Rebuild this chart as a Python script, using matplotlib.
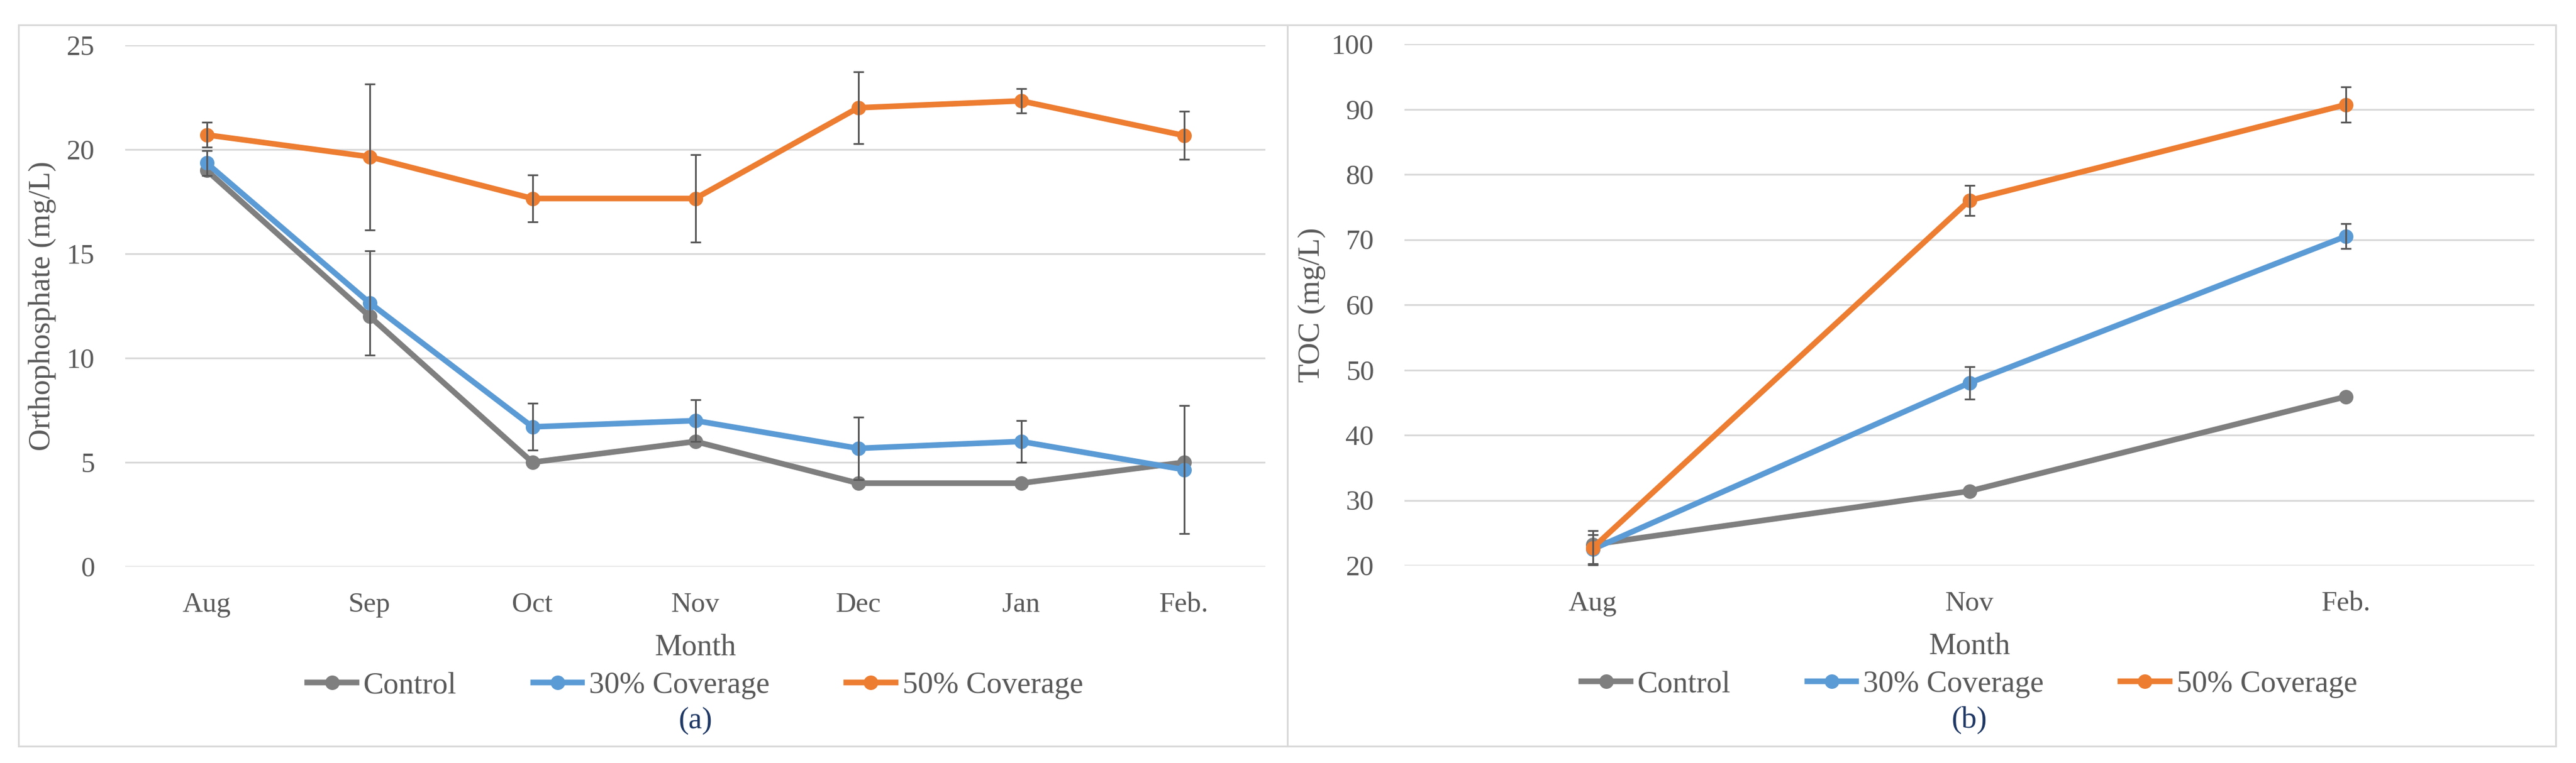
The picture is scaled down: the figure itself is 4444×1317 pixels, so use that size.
import matplotlib
matplotlib.use("Agg")
import matplotlib.pyplot as plt
from matplotlib.patches import Rectangle

plt.rcParams['font.family'] = ['Liberation Serif', 'DejaVu Serif']

# (a) orthophosphate, monthly
months_a = ['Aug', 'Sep', 'Oct', 'Nov', 'Dec', 'Jan', 'Feb.']
control_a = [19.0, 12.0, 5.0, 6.0, 4.0, 4.0, 5.0]
cov30_a = [19.35, 12.65, 6.7, 7.0, 5.67, 6.0, 4.65]
err30_a = [0.6, 2.5, 1.13, 1.0, 1.5, 1.0, 3.07]
cov50_a = [20.7, 19.65, 17.65, 17.65, 22.0, 22.33, 20.67]
err50_a = [0.6, 3.5, 1.13, 2.1, 1.72, 0.58, 1.15]

# (b) TOC, three samplings
months_b = ['Aug', 'Nov', 'Feb.']
control_b = [23.2, 31.4, 45.9]
cov30_b = [22.5, 48.0, 70.5]
err30_b = [2.2, 2.5, 1.9]
cov50_b = [22.7, 76.0, 90.7]
err50_b = [2.6, 2.3, 2.7]

labels = ['Control', '30% Coverage', '50% Coverage']
colors = ['#7f7f7f', '#5b9bd5', '#ed7d31']
txt = '#595959'
W, H = 4444, 1317

fig = plt.figure(figsize=(W / 100, H / 100), dpi=100)

# panel frames
for x0, x1 in [(32, 2221), (2221, 4409)]:
    fig.patches.append(Rectangle((x0 / W, 1 - 1288 / H), (x1 - x0) / W, (1288 - 43) / H,
                                 transform=fig.transFigure, fill=False,
                                 edgecolor='#d9d9d9', linewidth=2.2))

ax1 = fig.add_axes([216 / W, 1 - 978 / H, (2183 - 216) / W, 900 / H])
ax2 = fig.add_axes([2423 / W, 1 - 976 / H, (4372 - 2423) / W, 900 / H])


def draw(ax, months, series, errs, ylim, yticks, ylabel, ylab_x, tag):
    x = list(range(len(months)))
    for vals, err, c, lab in zip(series, errs, colors, labels):
        ax.plot(x, vals, color=c, lw=7, marker='o', ms=17, label=lab, zorder=3)
        if err is not None:
            ax.errorbar(x, vals, yerr=err, fmt='none', ecolor='#595959',
                        elinewidth=2.2, capsize=6.5, capthick=2.2, zorder=4)
    ax.set_xlim(-0.5, len(months) - 0.5)
    ax.set_ylim(*ylim)
    ax.set_yticks(yticks)
    ax.set_xticks(x)
    ax.set_xticklabels(months)
    ax.grid(axis='y', color='#d9d9d9', lw=2.2, zorder=0)
    ax.set_axisbelow(True)
    for s in ax.spines.values():
        s.set_visible(False)
    ax.tick_params(axis='both', length=0, labelsize=35, colors=txt)
    ax.tick_params(axis='x', pad=32)
    ax.tick_params(axis='y', pad=38)
    ax.set_ylabel(ylabel, fontsize=38, color=txt, va='center')
    ax.yaxis.set_label_coords(ylab_x, 0.5)
    ax.set_xlabel('Month', fontsize=38, color=txt, va='center')
    ax.xaxis.set_label_coords(0.5, -0.155)
    ax.legend(loc='center', bbox_to_anchor=(0.5, -0.228), ncol=3, frameon=False,
              prop={'family': 'Liberation Serif', 'size': 38}, labelcolor=txt,
              handlelength=1.6, handletextpad=0.23, columnspacing=2.5, borderaxespad=0)
    ax.text(0.5, -0.297, tag, transform=ax.transAxes, ha='center', va='center',
            fontsize=38, color='#1f3864')


draw(ax1, months_a, [control_a, cov30_a, cov50_a], [None, err30_a, err50_a],
     (0, 25), [0, 5, 10, 15, 20, 25], 'Orthophosphate (mg/L)', (73 - 216) / 1967, '(a)')
draw(ax2, months_b, [control_b, cov30_b, cov50_b], [None, err30_b, err50_b],
     (20, 100), list(range(20, 101, 10)), 'TOC (mg/L)', (2264 - 2423) / 1949, '(b)')

fig.savefig('out.png', dpi=100, facecolor='white')
